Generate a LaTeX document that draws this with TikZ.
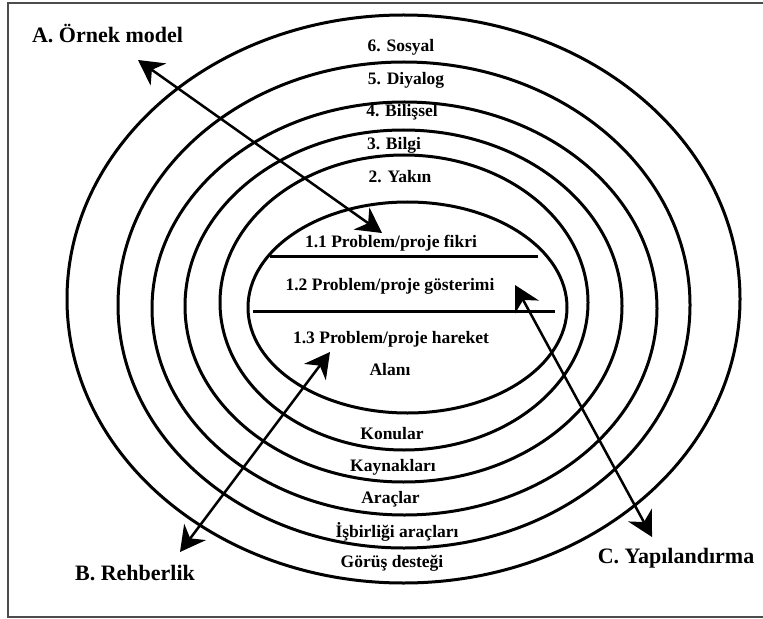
\documentclass[tikz,border=0pt]{standalone}
\usepackage{fontspec}
\setmainfont{Liberation Serif}
\usetikzlibrary{arrows.meta}
\begin{document}
\begin{tikzpicture}[x=1bp,y=-1bp,
  ring/.style={line width=3bp},
  divider/.style={line width=3bp},
  lbl/.style={font=\fontsize{17.5bp}{21bp}\selectfont\bfseries, anchor=base, inner sep=0pt},
  big/.style={font=\fontsize{22bp}{26bp}\selectfont\bfseries, anchor=base, inner sep=0pt},
  tip/.style={Stealth[length=25bp,width=27bp,inset=8bp]},
  dbl/.style={line width=2.5bp, {Stealth[length=25bp,width=27bp,inset=8bp]}-{Stealth[length=25bp,width=27bp,inset=8bp]}}
]
\useasboundingbox (0,0) rectangle (763,619);
% frame
\draw[line width=1.5bp, black!70] (763,3) -- (8,3) -- (8,617) -- (763,617);
% rings
\draw[ring] (407.5,307.5) ellipse [x radius=159.5, y radius=105.5];
\draw[ring] (404,302.5) ellipse [x radius=184, y radius=147.5];
\draw[ring] (403.5,306) ellipse [x radius=218.5, y radius=176];
\draw[ring] (404.5,308.5) ellipse [x radius=252.5, y radius=206.5];
\draw[ring] (404,305) ellipse [x radius=286, y radius=243];
\draw[ring] (403.5,299) ellipse [x radius=336.5, y radius=284];
% dividers in the core
\draw[divider] (270,256) -- (538,256);
\draw[divider] (253,311) -- (555,311);
% ring labels (top)
\node[lbl] (l6) at (401,52) {6. Sosyal};
\node[lbl] (l5) at (406,85) {5. Diyalog};
\node[lbl] (l4) at (402,117) {4. Bilişsel};
\node[lbl] (l3) at (394,150) {3. Bilgi};
\node[lbl] (l2) at (400,183) {2. Yakın};
% core labels
\node[lbl] (c11) at (391,247) {1.1 Problem/proje fikri};
\node[lbl] (c12) at (390,290) {1.2 Problem/proje gösterimi};
\node[lbl] (c13) at (391,343) {1.3 Problem/proje hareket};
\node[lbl] (c14) at (390,375) {Alanı};
% ring labels (bottom)
\node[lbl] (b2) at (392,439) {Konular};
\node[lbl] (b3) at (393,471) {Kaynakları};
\node[lbl] (b4) at (390.5,503) {Araçlar};
\node[lbl] (b5) at (397,537) {İşbirliği araçları};
\node[lbl] (b6) at (392,567) {Görüş desteği};
% big labels
\node[big] (A) at (107.5,43) {A. Örnek model};
\node[big] (B) at (135,580) {B. Rehberlik};
\node[big] (C) at (676,563) {C. Yapılandırma};
% arrow ends
\coordinate (a1) at (138,60);
\coordinate (a2) at (382,233);
\coordinate (r1) at (330,352);
\coordinate (r2) at (180,552);
\coordinate (y1) at (515,285);
\coordinate (y2) at (652,537);
\draw[dbl] (a1) -- (a2);
\draw[dbl] (r1) -- (r2);
\draw[dbl] (y1) -- (y2);
\end{tikzpicture}
\end{document}
